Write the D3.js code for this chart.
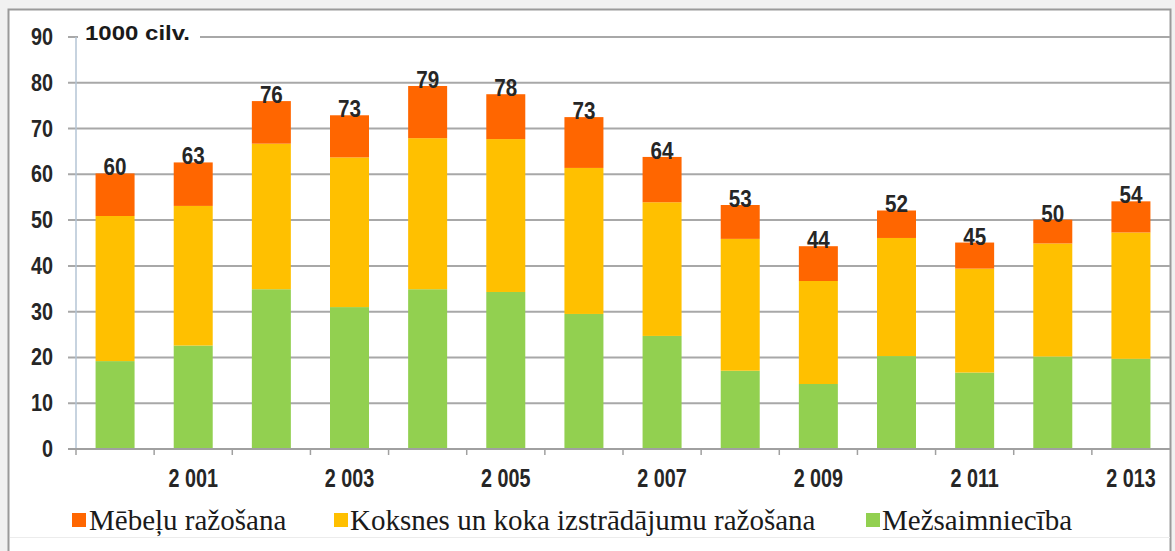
<!DOCTYPE html>
<html>
<head>
<meta charset="utf-8">
<script src="https://cdn.jsdelivr.net/npm/d3@7"></script>
<style>
  html, body { margin: 0; padding: 0; background: #f1f1f1; }
  svg { display: block; }
</style>
</head>
<body>
<svg id="chart" width="1175" height="551"></svg>
<script>
// ---- data ----
const years = ["2000","2001","2002","2003","2004","2005","2006","2007","2008","2009","2010","2011","2012","2013"];
const xTickLabels = ["", "2 001", "", "2 003", "", "2 005", "", "2 007", "", "2 009", "", "2 011", "", "2 013"];
const mezsaimnieciba = [19.2, 22.6, 34.9, 31.0, 34.9, 34.3, 29.5, 24.7, 17.1, 14.2, 20.3, 16.7, 20.2, 19.7];
const koksnes = [31.7, 30.5, 31.8, 32.7, 33.0, 33.4, 31.9, 29.2, 28.8, 22.5, 25.8, 22.7, 24.7, 27.6];
const mebeles = [9.3, 9.5, 9.3, 9.2, 11.4, 9.8, 11.1, 9.9, 7.4, 7.6, 6.0, 5.7, 5.2, 6.8];
const totalLabels = [60, 63, 76, 73, 79, 78, 73, 64, 53, 44, 52, 45, 50, 54];
const yTicks = [0, 10, 20, 30, 40, 50, 60, 70, 80, 90];
const seriesNames = ["Mēbeļu ražošana", "Koksnes un koka izstrādājumu ražošana", "Mežsaimniecība"];
const unitLabel = "1000 cilv.";

const colors = { mez: "#92D050", kok: "#FFC000", meb: "#FF6600" };

const svg = d3.select("#chart");

// frame
svg.append("rect").attr("x", 8.5).attr("y", 9.5).attr("width", 1162).attr("height", 570)
  .attr("fill", "#ffffff").attr("stroke", "#9a9a9a").attr("stroke-width", 2);
svg.append("line").attr("x1", 10).attr("x2", 1170).attr("y1", 537.5).attr("y2", 537.5)
  .attr("stroke", "#ececec").attr("stroke-width", 1);

const xb = d3.scaleBand().domain(years).range([76, 1170]);
const y = d3.scaleLinear().domain([0, 90]).range([449, 37]);

// gridlines
svg.append("g").selectAll("line").data(yTicks.filter(d => d > 0)).join("line")
  .attr("x1", 68).attr("x2", 1170)
  .attr("y1", d => y(d)).attr("y2", d => y(d))
  .attr("stroke", "#a8a8a8").attr("stroke-width", 2);

// y axis line
svg.append("line").attr("x1", 76).attr("x2", 76).attr("y1", y(90)).attr("y2", y(0))
  .attr("stroke", "#b4c4d4").attr("stroke-width", 1.5);

// stacked data
const rows = years.map((yr, i) => ({ year: yr, mez: mezsaimnieciba[i], kok: koksnes[i], meb: mebeles[i] }));
const stack = d3.stack().keys(["mez", "kok", "meb"]);
const stacked = stack(rows);

const barW = 39;
svg.append("g").selectAll("g").data(stacked).join("g")
  .attr("fill", d => colors[d.key])
  .selectAll("rect").data(d => d).join("rect")
  .attr("x", d => xb(d.data.year) + xb.bandwidth() / 2 - barW / 2)
  .attr("width", barW)
  .attr("y", d => y(d[1]))
  .attr("height", d => y(d[0]) - y(d[1]));

// x axis line & ticks
svg.append("line").attr("x1", 68).attr("x2", 1170).attr("y1", y(0)).attr("y2", y(0))
  .attr("stroke", "#a0a0a0").attr("stroke-width", 2);
svg.append("g").selectAll("line").data(years.slice(1)).join("line")
  .attr("x1", d => xb(d)).attr("x2", d => xb(d))
  .attr("y1", y(0)).attr("y2", y(0) + 6)
  .attr("stroke", "#a0a0a0").attr("stroke-width", 1.5);
svg.append("line").attr("x1", 76).attr("x2", 76).attr("y1", y(0)).attr("y2", y(0) + 6)
  .attr("stroke", "#a0a0a0").attr("stroke-width", 1.5);

const sansBold = "'Liberation Sans', Arial, sans-serif";

// y tick labels
svg.append("g").selectAll("text").data(yTicks).join("text")
  .attr("transform", d => `translate(53,${y(d) + 8}) scale(0.86,1)`)
  .attr("text-anchor", "end")
  .attr("font-family", sansBold).attr("font-weight", "bold").attr("font-size", 23)
  .attr("fill", "#262626")
  .text(d => d);

// x tick labels
svg.append("g").selectAll("text").data(years).join("text")
  .attr("transform", d => `translate(${xb(d) + xb.bandwidth() / 2},${487}) scale(0.76,1)`)
  .attr("text-anchor", "middle")
  .attr("font-family", sansBold).attr("font-weight", "bold").attr("font-size", 26)
  .attr("fill", "#262626")
  .text((d, i) => xTickLabels[i]);

// total labels
svg.append("g").selectAll("text").data(rows).join("text")
  .attr("transform", (d, i) => `translate(${xb(d.year) + xb.bandwidth() / 2},${y(d.mez + d.kok + d.meb) + 2}) scale(0.86,1)`)
  .attr("text-anchor", "middle")
  .attr("font-family", sansBold).attr("font-weight", "bold").attr("font-size", 24)
  .attr("fill", "#262626")
  .text((d, i) => totalLabels[i]);

// unit label with white background
svg.append("rect").attr("x", 78).attr("y", 24).attr("width", 122).attr("height", 22).attr("fill", "#ffffff");
svg.append("text").attr("x", 85).attr("y", 40)
  .attr("font-family", sansBold).attr("font-weight", "bold").attr("font-size", 21)
  .attr("fill", "#1a1a1a").attr("textLength", 105).attr("lengthAdjust", "spacingAndGlyphs")
  .text(unitLabel);

// legend
const legendItems = [
  { name: seriesNames[0], color: colors.meb, sx: 72, tx: 89 },
  { name: seriesNames[1], color: colors.kok, sx: 334, tx: 350 },
  { name: seriesNames[2], color: colors.mez, sx: 866, tx: 882 }
];
const lg = svg.append("g").selectAll("g").data(legendItems).join("g");
lg.append("rect").attr("x", d => d.sx).attr("y", 513).attr("width", 14).attr("height", 14).attr("fill", d => d.color);
lg.append("text").attr("x", d => d.tx).attr("y", 530)
  .attr("font-family", "'Liberation Serif', 'Times New Roman', serif").attr("font-size", 29)
  .attr("fill", "#1a1a1a")
  .text(d => d.name);
</script>
</body>
</html>
